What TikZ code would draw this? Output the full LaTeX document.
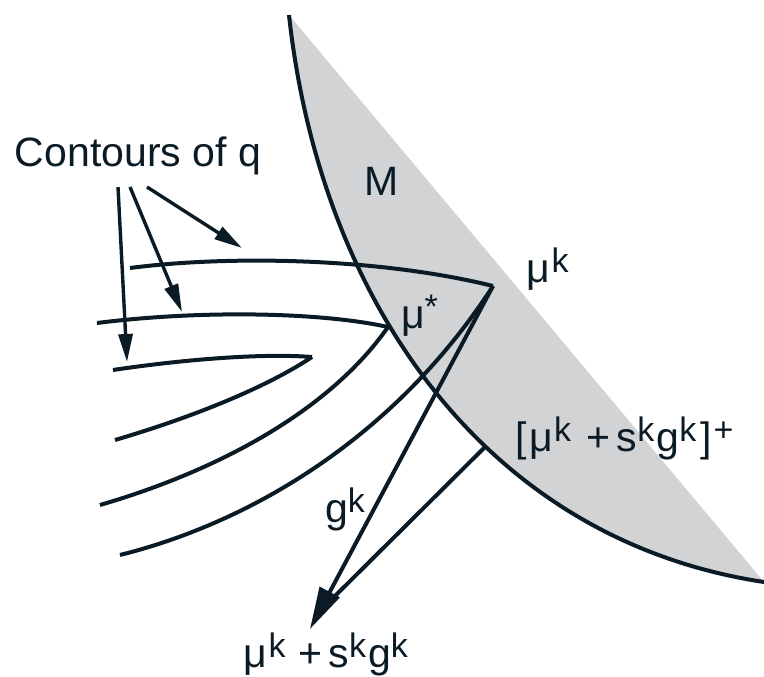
\documentclass[tikz,border=0pt]{standalone}
\usepackage{fontspec}
\setmainfont{Liberation Sans}
\usetikzlibrary{arrows.meta}
\definecolor{ink}{HTML}{0B1B25}
\definecolor{mfill}{HTML}{D1D3D5}
\newcommand\rsup[1]{\raisebox{10pt}{\fontsize{34}{34}\selectfont #1}}
\newcommand\pls{\hspace{15pt}+\hspace{7pt}}
\begin{document}
\begin{tikzpicture}[x=1pt,y=-1pt,color=ink,line width=4pt,
  lbl/.style={inner sep=0pt,anchor=base west,text=ink,font=\fontsize{41}{45}\selectfont},
  smallarrow/.style={-{Triangle[length=28pt,width=14pt]},line width=3.4pt},
  bigarrow/.style={-{Triangle[length=42pt,width=22pt]},line width=4pt}]
\useasboundingbox (0,0) rectangle (764,677);
% key points
\coordinate (mtop) at (289,15);
\coordinate (mend) at (764,582);
\coordinate (muk) at (493,286);
\coordinate (mustar) at (388,327);
\coordinate (tip3) at (312,357);
\coordinate (proj) at (485,447);
\coordinate (gtip) at (310,629);
\coordinate (pend) at (334,597);
\coordinate (c1s) at (130,268);
\coordinate (c2s) at (97,323);
\coordinate (c3s) at (113,370);
\coordinate (c3e) at (115,440);
\coordinate (c4e) at (100,505);
\coordinate (c5e) at (120,555);
% region M
\path[fill=mfill] (mtop) .. controls (320,300) and (485,540) .. (mend) -- cycle;
\draw (mtop) .. controls (320,300) and (485,540) .. (mend);
% contours
\draw (c1s) .. controls (230,255) and (380,258) .. (muk);
\draw (c2s) .. controls (200,310) and (320,312) .. (mustar);
\draw (c3s) .. controls (180,360) and (260,353) .. (tip3);
\draw (tip3) .. controls (270,385) and (200,415) .. (c3e);
\draw (mustar) .. controls (330,410) and (220,470) .. (c4e);
\draw (muk) .. controls (400,430) and (260,520) .. (c5e);
% step and projection
\draw[bigarrow] (muk) -- (gtip);
\draw (proj) -- (pend);
% labels
\node[lbl] (cq) at (13,167) {Contours of q};
\coordinate (a1) at (118,187);
\coordinate (a2) at (130,187);
\coordinate (a3) at (147,187);
\coordinate (t1) at (127,362);
\coordinate (t2) at (182,312);
\coordinate (t3) at (242,248);
\draw[smallarrow] (a1) -- (t1);
\draw[smallarrow] (a2) -- (t2);
\draw[smallarrow] (a3) -- (t3);
\node[lbl] (M) at (362,195) {M};
\node[lbl] (lmuk) at (524,282) {μ\hspace{2pt}\rsup{k}};
\node[lbl] (lmus) at (399,328) {μ\rsup{*}};
\node[lbl] (lproj) at (513,451) {[\hspace{3pt}μ\hspace{1pt}\rsup{k}\pls s\rsup{k}\hspace{2pt}g\rsup{k}\hspace{4pt}]\hspace{2pt}\rsup{+}};
\node[lbl] (lg) at (323,522) {g\rsup{k}};
\node[lbl] (lstep) at (241,667) {μ\hspace{2pt}\rsup{k}\hspace{13pt}+\hspace{6pt}s\rsup{k}\hspace{2pt}g\rsup{k}};
\end{tikzpicture}
\end{document}
